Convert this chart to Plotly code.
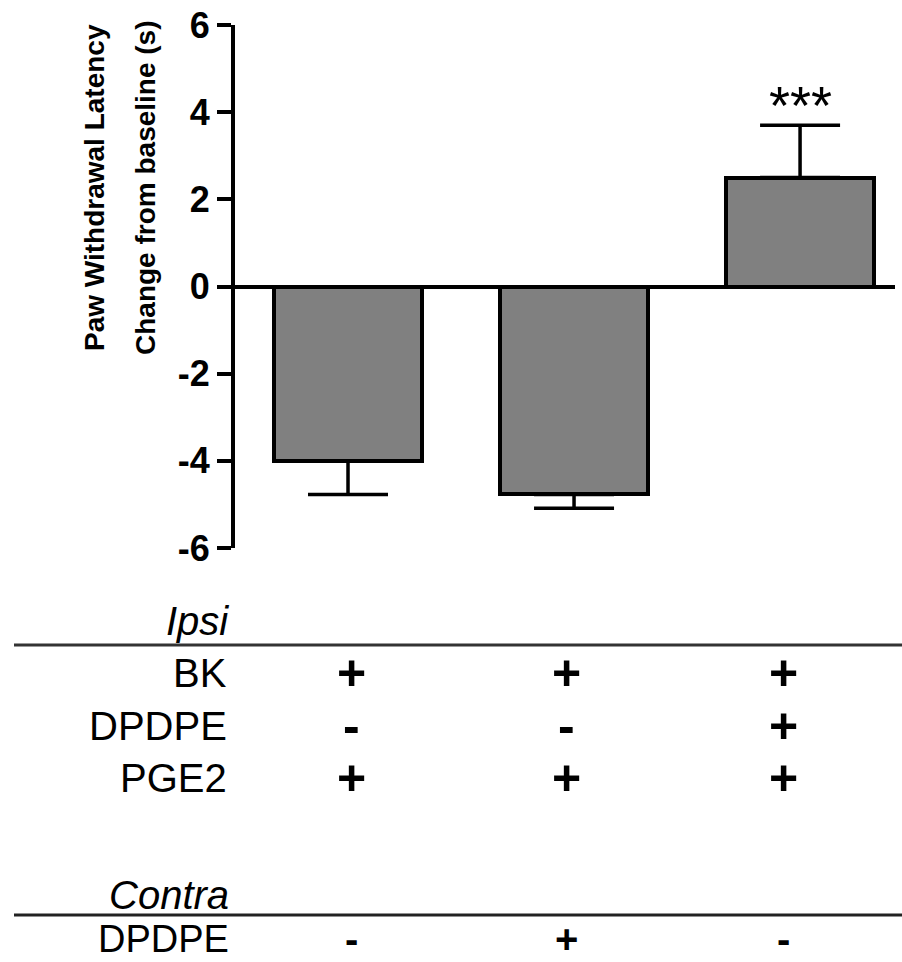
import plotly.graph_objects as go

# ---------------- data ----------------
groups = ["BK+PGE2", "BK+PGE2 (contra DPDPE)", "BK+DPDPE+PGE2"]
means = [-4.0, -4.77, 2.5]
err_up = [0, 0, 1.2]
err_down = [0.77, 0.32, 0]
sig_labels = ["", "", "***"]

ipsi_rows = ["BK", "DPDPE", "PGE2"]
ipsi_marks = [["+", "+", "+"],
              ["-", "-", "+"],
              ["+", "+", "+"]]
contra_rows = ["DPDPE"]
contra_marks = [["-", "+", "-"]]

y_ticks = [-6, -4, -2, 0, 2, 4, 6]
y_tick_text = ["-6", "-4", "-2", "0", "2", "4", "6"]
y_title_lines = ["Paw Withdrawal Latency", "Change from baseline (s)"]

# ---------------- layout helpers (page pixel -> paper) ----------------
W, H = 902, 962
PL, PR, PT, PB = 235, 895, 25, 548   # plot area in page pixels


def px(x):
    return (x - PL) / (PR - PL)


def py(y):
    return (PB - y) / (PB - PT)


FONT = "Liberation Sans, Arial, Helvetica, sans-serif"

fig = go.Figure()
fig.add_trace(go.Bar(
    x=list(range(len(groups))),
    y=means,
    width=0.655,
    marker=dict(color="#808080", line=dict(color="black", width=4)),
    error_y=dict(type="data", symmetric=False, array=err_up, arrayminus=err_down,
                 color="black", thickness=3.5, width=40),
    hovertext=groups,
    showlegend=False,
))

annotations = []
# significance stars
for i, s in enumerate(sig_labels):
    if s:
        annotations.append(dict(
            x=i, y=means[i] + err_up[i], xref="x", yref="y",
            text=s, showarrow=False, yanchor="bottom", xanchor="center",
            yshift=-12, font=dict(family=FONT, size=54, color="black")))

# y title (two lines, rotated)
for txt, xc in zip(y_title_lines, [94, 145]):
    annotations.append(dict(
        x=px(xc), y=py(188), xref="paper", yref="paper", text=txt,
        textangle=-90, showarrow=False, xanchor="center", yanchor="middle",
        font=dict(family=FONT, size=28, color="black", weight="bold")))

# table headers
annotations.append(dict(x=px(231), y=py(621), xref="paper", yref="paper",
                        text="<i>Ipsi</i>", showarrow=False, xanchor="right",
                        yanchor="middle", font=dict(family=FONT, size=40, color="black")))
annotations.append(dict(x=px(231), y=py(895), xref="paper", yref="paper",
                        text="<i>Contra</i>", showarrow=False, xanchor="right",
                        yanchor="middle", font=dict(family=FONT, size=40, color="black")))

col_shift = [3, -8, -17]
ipsi_y = [673, 726, 778]
for r, (lab, yc) in enumerate(zip(ipsi_rows, ipsi_y)):
    annotations.append(dict(x=px(229), y=py(yc), xref="paper", yref="paper",
                            text=lab, showarrow=False, xanchor="right", yanchor="middle",
                            font=dict(family=FONT, size=40, color="black")))
    for c, m in enumerate(ipsi_marks[r]):
        annotations.append(dict(x=c, y=py(yc), xref="x", yref="paper", text=m,
                                showarrow=False, xanchor="center", yanchor="middle",
                                xshift=col_shift[c],
                                font=dict(family=FONT, size=50, color="black", weight="bold")))

contra_y = [939]
for r, (lab, yc) in enumerate(zip(contra_rows, contra_y)):
    annotations.append(dict(x=px(231), y=py(yc), xref="paper", yref="paper",
                            text=lab, showarrow=False, xanchor="right", yanchor="middle",
                            font=dict(family=FONT, size=38, color="black")))
    for c, m in enumerate(contra_marks[r]):
        annotations.append(dict(x=c, y=py(yc), xref="x", yref="paper", text=m,
                                showarrow=False, xanchor="center", yanchor="middle",
                                xshift=col_shift[c],
                                font=dict(family=FONT, size=40, color="black", weight="bold")))

shapes = [
    dict(type="line", xref="paper", yref="paper", x0=px(14), x1=px(902),
         y0=py(645), y1=py(645), line=dict(color="#333333", width=3)),
    dict(type="line", xref="paper", yref="paper", x0=px(14), x1=px(902),
         y0=py(915), y1=py(915), line=dict(color="#222222", width=3)),
]

fig.update_layout(
    width=W, height=H,
    margin=dict(l=PL, r=W - PR, t=PT, b=H - PB, pad=0, autoexpand=False),
    plot_bgcolor="white", paper_bgcolor="white",
    annotations=annotations, shapes=shapes,
    bargap=0,
)
fig.update_xaxes(range=[-0.5, 2.42], showticklabels=False, showgrid=False,
                 zeroline=False, showline=False, ticks="", automargin=False)
fig.update_yaxes(range=[-6, 6], tickvals=y_ticks, ticktext=y_tick_text,
                 ticks="outside", ticklen=14, ticklabeloverflow="allow",
                 automargin=False,
                 tickwidth=3.5, tickcolor="black", showline=True, linewidth=4,
                 linecolor="black", showgrid=False, zeroline=True,
                 zerolinecolor="black", zerolinewidth=3.5,
                 tickfont=dict(family=FONT, size=36, color="black", weight="bold"))

fig.write_html("out.html", config={"displayModeBar": False},
               post_script="document.body.style.margin='0';document.body.style.overflow='hidden';")
